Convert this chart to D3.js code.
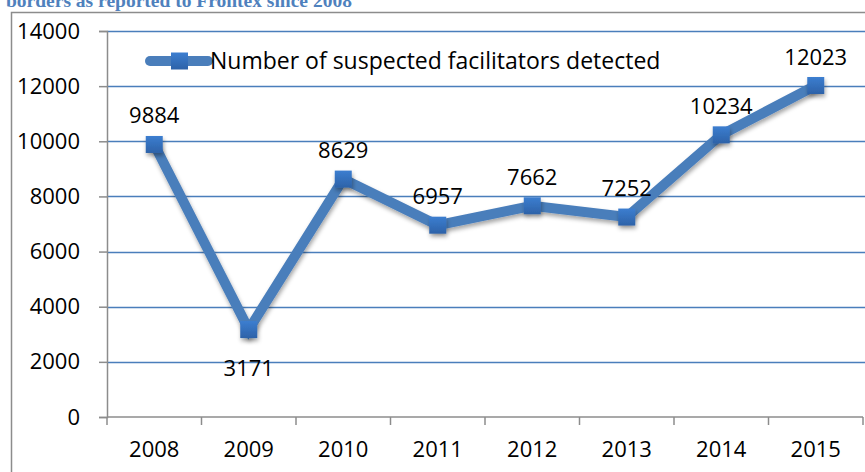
<!DOCTYPE html>
<html>
<head>
<meta charset="utf-8">
<script src="https://cdn.jsdelivr.net/npm/d3@7"></script>
<style>
  body { margin: 0; background: #fff; }
  text { font-family: "Open Sans", "Noto Sans", sans-serif; }
</style>
</head>
<body>
<svg id="chart"></svg>
<script>
// data
var years = ["2008", "2009", "2010", "2011", "2012", "2013", "2014", "2015"];
var facilitators = [9884, 3171, 8629, 6957, 7662, 7252, 10234, 12023];
var yTicks = [0, 2000, 4000, 6000, 8000, 10000, 12000, 14000];
var seriesName = "Number of suspected facilitators detected";
var titleText = "borders as reported to Frontex since 2008";

var width = 865, height = 472;
var margin = {top: 31, right: 2, bottom: 55, left: 107};
var blue = "#4a7ebb";
var fs = "22px";

var svg = d3.select("#chart")
    .attr("width", width)
    .attr("height", height);

// title (cut off at top like the source)
svg.append("text")
    .attr("x", 6)
    .attr("y", 7)
    .attr("fill", "#4f81bd")
    .style("font-family", "'Liberation Serif', 'DejaVu Serif', serif")
    .style("font-weight", "bold")
    .style("font-size", "19.5px")
    .text(titleText);

// outer frame
svg.append("rect")
    .attr("x", 11.5)
    .attr("y", 12.5)
    .attr("width", 900)
    .attr("height", 500)
    .attr("fill", "#fff")
    .attr("stroke", "#8c8c8c")
    .attr("stroke-width", 1.5);

var x = d3.scaleBand()
    .domain(years)
    .range([margin.left, width - margin.right]);

var y = d3.scaleLinear()
    .domain([0, 14000])
    .range([height - margin.bottom, margin.top]);

// gridlines
svg.append("g")
    .selectAll("line")
    .data(yTicks.filter(function(d) { return d > 0; }))
    .enter()
    .append("line")
    .attr("x1", margin.left)
    .attr("x2", width)
    .attr("y1", function(d) { return Math.round(y(d)) + 0.5; })
    .attr("y2", function(d) { return Math.round(y(d)) + 0.5; })
    .attr("stroke", blue)
    .attr("stroke-width", 1.5);

// y axis
var yAxis = svg.append("g")
    .attr("transform", "translate(" + margin.left + ",0)")
    .call(d3.axisLeft(y).tickValues(yTicks).tickSize(8).tickPadding(19).tickFormat(d3.format("d")));
yAxis.selectAll("text")
    .style("font-size", fs)
    .attr("fill", "#000");
yAxis.selectAll("line, path").attr("stroke", "#8c8c8c").attr("stroke-width", 1.5);

// x axis
var xAxis = svg.append("g")
    .attr("transform", "translate(0," + (height - margin.bottom) + ")")
    .call(d3.axisBottom(x).tickSize(0).tickPadding(24));
xAxis.select("path").attr("stroke", "#8c8c8c").attr("stroke-width", 1.5)
    .attr("d", "M" + margin.left + ",0H" + (width - margin.right));
xAxis.selectAll("text")
    .style("font-size", fs)
    .attr("fill", "#000");
// category separators
svg.append("g")
    .selectAll("line")
    .data(years.concat(["end"]))
    .enter()
    .append("line")
    .attr("x1", function(d, i) { return margin.left + i * x.step(); })
    .attr("x2", function(d, i) { return margin.left + i * x.step(); })
    .attr("y1", height - margin.bottom)
    .attr("y2", height - margin.bottom + 8)
    .attr("stroke", "#8c8c8c")
    .attr("stroke-width", 1.5);

// shadow + marker gradient
var defs = svg.append("defs");
var shadow = defs.append("filter").attr("id", "shadow")
    .attr("x", "-50%").attr("y", "-50%").attr("width", "200%").attr("height", "200%");
shadow.append("feDropShadow")
    .attr("dx", 1).attr("dy", 3).attr("stdDeviation", 2)
    .attr("flood-color", "#000").attr("flood-opacity", 0.35);
var grad = defs.append("linearGradient").attr("id", "mk")
    .attr("x1", 0).attr("y1", 0).attr("x2", 0).attr("y2", 1);
grad.append("stop").attr("offset", "0%").attr("stop-color", "#3c7ed0");
grad.append("stop").attr("offset", "100%").attr("stop-color", "#2d62a8");

var cx = function(d, i) { return x(years[i]) + x.bandwidth() / 2; };

var line = d3.line()
    .x(function(d, i) { return cx(d, i); })
    .y(function(d) { return y(d); });

svg.append("path")
    .datum(facilitators)
    .attr("d", line)
    .attr("fill", "none")
    .attr("stroke", blue)
    .attr("stroke-width", 10)
    .attr("stroke-linejoin", "miter")
    .attr("filter", "url(#shadow)");

svg.selectAll(".marker")
    .data(facilitators)
    .enter()
    .append("rect")
    .attr("class", "marker")
    .attr("x", function(d, i) { return cx(d, i) - 8.5; })
    .attr("y", function(d) { return y(d) - 8.5; })
    .attr("width", 17)
    .attr("height", 17)
    .attr("fill", "url(#mk)")
    .attr("filter", "url(#shadow)");

// data labels
svg.selectAll(".lbl")
    .data(facilitators)
    .enter()
    .append("text")
    .attr("class", "lbl")
    .attr("x", function(d, i) { return cx(d, i); })
    .attr("y", function(d, i) { return i == 1 ? y(d) + 46 : y(d) - 21; })
    .attr("text-anchor", "middle")
    .style("font-size", fs)
    .attr("fill", "#000")
    .text(function(d) { return d; });

// legend
var lg = svg.append("g").attr("transform", "translate(150,61)");
lg.append("line")
    .attr("x1", 0).attr("x2", 58)
    .attr("stroke", blue)
    .attr("stroke-width", 10)
    .attr("stroke-linecap", "round");
lg.append("rect")
    .attr("x", 21).attr("y", -8.5)
    .attr("width", 17).attr("height", 17)
    .attr("fill", "url(#mk)");
lg.append("text")
    .attr("x", 60)
    .attr("y", 8)
    .style("font-size", "23px")
    .attr("fill", "#000")
    .text(seriesName);
</script>
</body>
</html>
